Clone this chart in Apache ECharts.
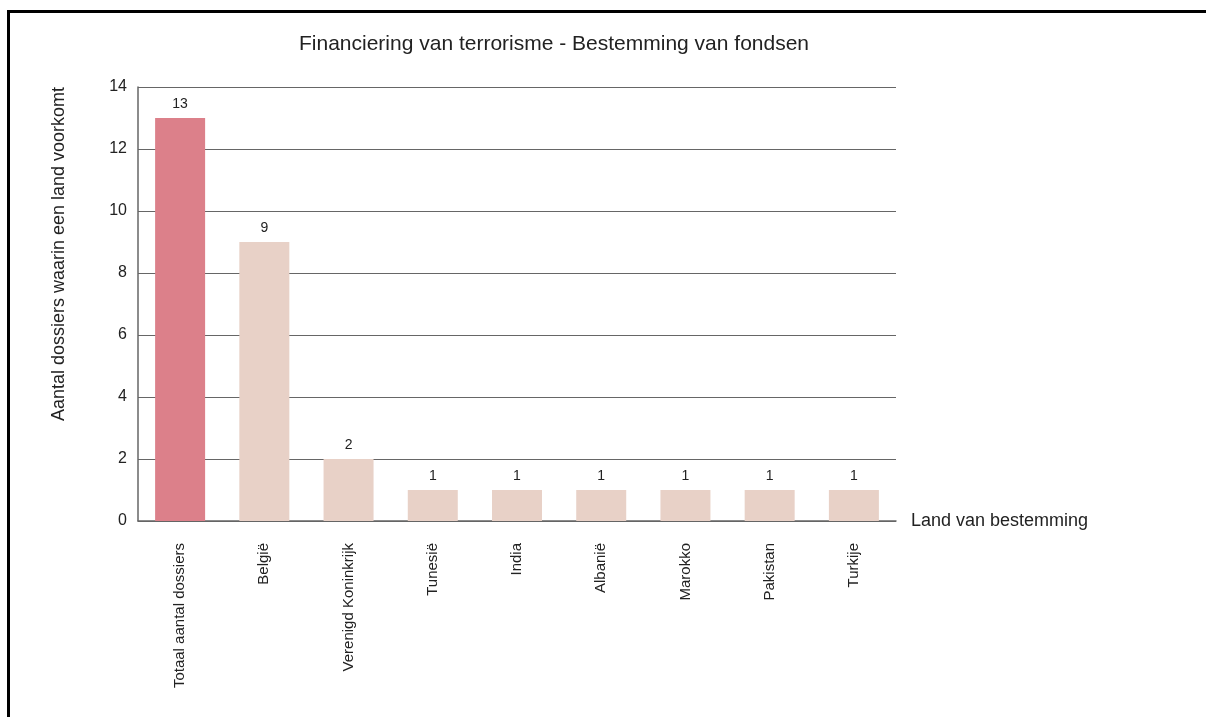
<!DOCTYPE html>
<html>
<head>
<meta charset="utf-8">
<title>Financiering van terrorisme</title>
<script src="https://cdn.jsdelivr.net/npm/echarts@6/dist/echarts.min.js"></script>
<style>
  html, body { margin: 0; padding: 0; background: #fff; }
  #frame {
    position: absolute; left: 7px; top: 10px; width: 1210px; height: 720px;
    border-top: 3px solid #000; border-left: 3px solid #000;
  }
  #chart { position: absolute; left: 0; top: 0; width: 1206px; height: 717px; }
</style>
</head>
<body>
<div id="frame"></div>
<div id="chart"></div>
<script>
// gegevens
const landen = ['Totaal aantal dossiers', 'België', 'Verenigd Koninkrijk', 'Tunesië', 'India', 'Albanië', 'Marokko', 'Pakistan', 'Turkije']
const aantallen = [13, 9, 2, 1, 1, 1, 1, 1, 1]
const kleuren = ['#dc808a', '#e8d1c7', '#e8d1c7', '#e8d1c7', '#e8d1c7', '#e8d1c7', '#e8d1c7', '#e8d1c7', '#e8d1c7']

const chart = echarts.init(document.getElementById('chart'))
const font = 'Liberation Sans, sans-serif'

chart.setOption({
  animation: false,
  title: {
    text: 'Financiering van terrorisme - Bestemming van fondsen',
    left: 549,
    textAlign: 'center',
    top: 29,
    textStyle: { fontFamily: font, fontWeight: 'normal', fontSize: 21, color: '#222' }
  },
  grid: { left: 138, right: 310, top: 87, bottom: 196 },
  xAxis: {
    type: 'category',
    data: landen,
    name: 'Land van bestemming',
    nameLocation: 'end',
    nameGap: 15,
    nameTextStyle: { fontFamily: font, fontSize: 18, color: '#222', verticalAlign: 'middle' },
    axisLine: { lineStyle: { color: '#666', width: 1.5 } },
    axisTick: { inside: true, length: 8, lineStyle: { color: '#666' } },
    axisLabel: {
      rotate: 90,
      interval: 0,
      margin: 22,
      fontFamily: font,
      fontSize: 15,
      color: '#222'
    }
  },
  yAxis: {
    type: 'value',
    min: 0,
    max: 14,
    interval: 2,
    name: 'Aantal dossiers waarin een land voorkomt',
    nameLocation: 'middle',
    nameGap: 70,
    nameTextStyle: { fontFamily: font, fontSize: 18, color: '#222', padding: [0, 0, 0, 100] },
    axisLine: { show: true, lineStyle: { color: '#666', width: 1.5 } },
    axisTick: { show: false },
    axisLabel: { margin: 11, fontFamily: font, fontSize: 16, color: '#222' },
    splitLine: { lineStyle: { color: '#666', width: 1.2 } }
  },
  series: [
    {
      type: 'bar',
      barWidth: 50,
      data: aantallen.map((v, i) => ({ value: v, itemStyle: { color: kleuren[i] } })),
      label: {
        show: true,
        position: 'top',
        distance: 7,
        fontFamily: font,
        fontSize: 14,
        color: '#222'
      }
    }
  ]
})
</script>
</body>
</html>
